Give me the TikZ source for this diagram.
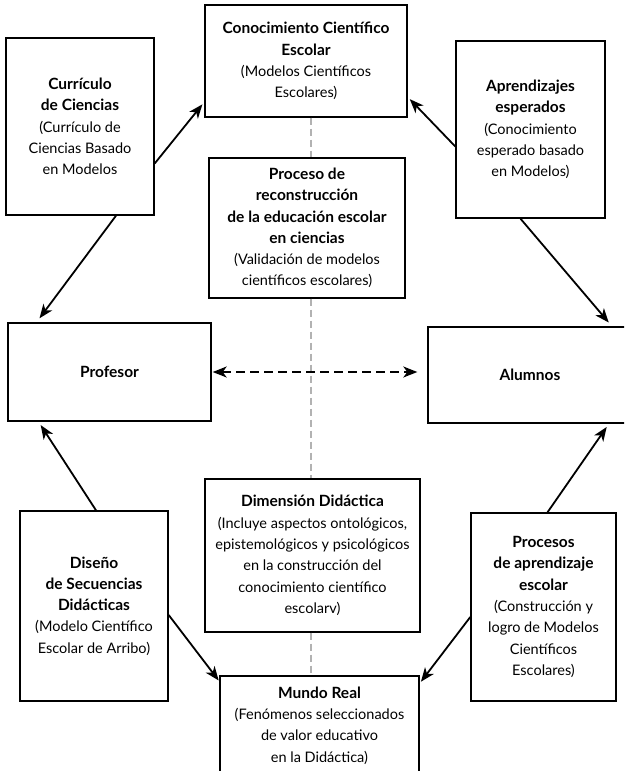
\documentclass[tikz,border=0pt]{standalone}
\usepackage{fontspec}
\setmainfont{Lato}
\usetikzlibrary{arrows.meta}
\newcommand{\tit}[1]{{\fontsize{15.5}{21.3}\selectfont\bfseries #1}}
\begin{document}
\begin{tikzpicture}[x=1pt,y=-1pt,
  caja/.style={draw=black,line width=1.4pt,fill=white,align=center,inner sep=2pt,font=\fontsize{14.5}{21.3}\selectfont},
  flecha/.style={line width=1.8pt,-{Stealth[length=14pt,width=11pt,inset=4pt]}},
  eje/.style={draw=black!30,line width=2.2pt,dash pattern=on 7pt off 4pt}]
\clip (0,0) rectangle (624,771);

\coordinate (eje) at (311,0);

\node[caja,minimum width=202pt,minimum height=112pt] (cono) at (306,61)
  {\tit{Conocimiento Científico}\\ \tit{Escolar}\\ (Modelos Científicos\\ Escolares)};
\node[caja,minimum width=148pt,minimum height=177pt] (curr) at (80,126.5)
  {\tit{Currículo}\\ \tit{de Ciencias}\\ (Currículo de\\ Ciencias Basado\\ en Modelos};
\node[caja,minimum width=149pt,minimum height=177pt] (apre) at (530.5,129.5)
  {\tit{Aprendizajes}\\ \tit{esperados}\\ (Conocimiento\\ esperado basado\\ en Modelos)};
\node[caja,minimum width=196pt,minimum height=140pt] (proc) at (307,228)
  {\tit{Proceso de}\\ \tit{reconstrucción}\\ \tit{de la educación escolar}\\ \tit{en ciencias}\\ (Validación de modelos\\ científicos escolares)};
\node[caja,minimum width=203pt,minimum height=98pt] (prof) at (109.5,372) {\tit{Profesor}};
\node[caja,minimum width=204pt,minimum height=96pt] (alum) at (530,375) {\tit{Alumnos}};
\node[caja,minimum width=215pt,minimum height=153pt] (dime) at (312.5,555.5)
  {\tit{Dimensión Didáctica}\\ (Incluye aspectos ontológicos,\\ epistemológicos y psicológicos\\ en la construcción del\\ conocimiento científico\\ escolarv)};
\node[caja,minimum width=148pt,minimum height=190pt] (dise) at (94,606)
  {\tit{Diseño}\\ \tit{de Secuencias}\\ \tit{Didácticas}\\ (Modelo Científico\\ Escolar de Arribo)};
\node[caja,minimum width=145pt,minimum height=188pt] (apren) at (543.5,607)
  {\tit{Procesos}\\ \tit{de aprendizaje}\\ \tit{escolar}\\ (Construcción y\\ logro de Modelos\\ Científicos\\ Escolares)};
\node[caja,minimum width=199pt,minimum height=99pt] (mund) at (319.5,725.5)
  {\tit{Mundo Real}\\ (Fenómenos seleccionados\\ de valor educativo\\ en la Didáctica)};

% eje central
\draw[eje] (eje |- cono.south) -- (eje |- proc.north);
\draw[eje] (eje |- proc.south) -- (eje |- dime.north);
\draw[eje] (eje |- dime.south) -- (eje |- mund.north);

% flechas
\draw[flecha,shorten >=3pt] ([yshift=-37pt]curr.east) -- ([yshift=-41pt]cono.west);
\draw[flecha,shorten >=5pt] ([xshift=36pt]curr.south) -- ([xshift=-73pt]prof.north);
\draw[flecha,shorten >=3pt] ([yshift=-17pt]apre.west) -- ([yshift=-36pt]cono.east);
\draw[flecha,shorten >=5pt] ([xshift=-10pt]apre.south) -- ([xshift=82pt]alum.north);
\draw[line width=1.9pt,dash pattern=on 9pt off 5pt,{Stealth[length=14pt,width=11pt,inset=4pt]}-{Stealth[length=14pt,width=11pt,inset=4pt]},shorten >=10pt,shorten <=1pt]
  (prof.east) -- (prof.east -| alum.west);
\draw[flecha,shorten >=4pt] ([xshift=2pt]dise.north) -- ([xshift=-71pt]prof.south);
\draw[flecha,shorten >=4pt] ([xshift=4pt]apren.north) -- ([xshift=79pt]alum.south);
\draw[flecha,shorten >=1pt] ([yshift=-9pt]dise.east) -- ([yshift=-6pt]mund.north west);
\draw[flecha,shorten >=2pt] ([yshift=-10pt]apren.west) -- ([yshift=-8pt]mund.north east);
\end{tikzpicture}
\end{document}
